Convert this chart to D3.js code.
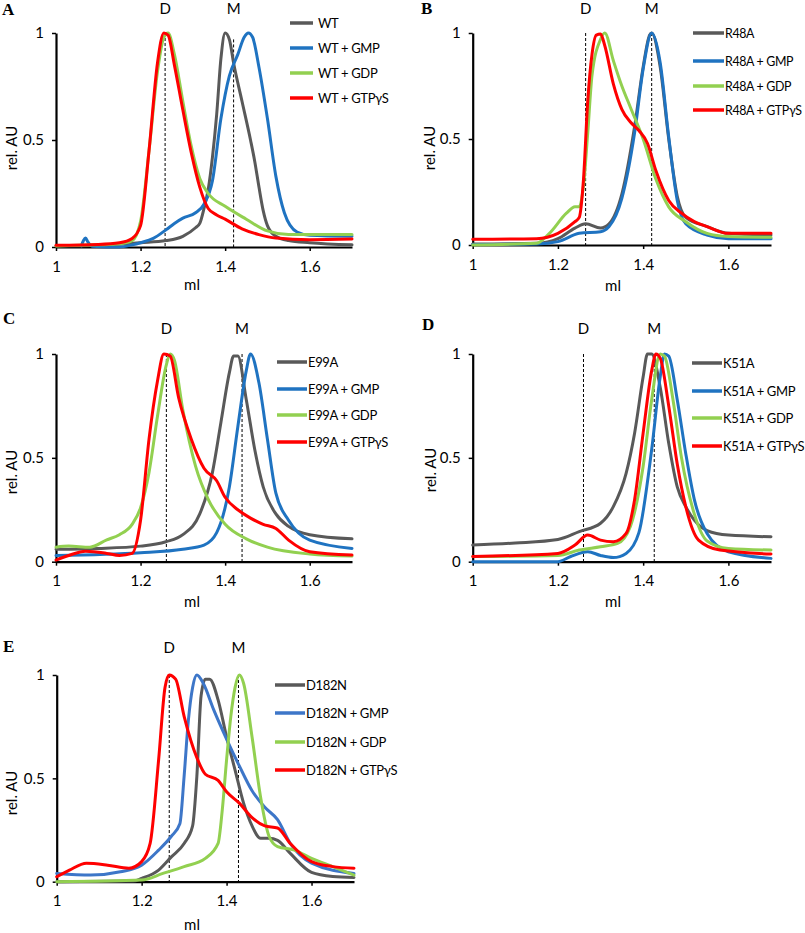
<!DOCTYPE html>
<html><head><meta charset="utf-8">
<script src="https://cdn.jsdelivr.net/npm/d3@7"></script>
<style>
body{margin:0;background:#fff;}
svg{display:block;}
text{font-family:Lato,"Open Sans",sans-serif;fill:#000;}
</style></head>
<body>
<svg id="c" width="805" height="933"></svg>
<script>
// ---------- shared ticks ----------
const xTicks = [1, 1.2, 1.4, 1.6];
const xTickLabels = ["1", "1.2", "1.4", "1.6"];
const yTicks = [0, 0.5, 1];
const yTickLabels = ["0", "0.5", "1"];
const seriesColors = ["#595959", "#1f73c1", "#92d050", "#ff0000"];

// ---------- Panel A: WT ----------
const A_labels = ["WT", "WT + GMP", "WT + GDP", "WT + GTPγS"];
const A_markers = [1.258, 1.42];
const A_WT = [[1,0.005],[1.1,0.008],[1.2,0.02],[1.26,0.03],[1.3,0.05],[1.33,0.09],[1.34,0.11],[1.35,0.18],[1.36,0.27],[1.37,0.42],[1.38,0.62],[1.39,0.88],[1.40,1.0],[1.41,0.97],[1.42,0.86],[1.44,0.68],[1.46,0.5],[1.47,0.4],[1.48,0.28],[1.49,0.17],[1.50,0.1],[1.52,0.05],[1.55,0.03],[1.6,0.02],[1.7,0.01]];
const A_GMP = [[1.06,0.005],[1.065,0.03],[1.07,0.042],[1.075,0.025],[1.085,0.004],[1.15,0.0],[1.18,0.01],[1.2,0.02],[1.23,0.04],[1.26,0.08],[1.28,0.11],[1.30,0.135],[1.33,0.16],[1.35,0.2],[1.37,0.31],[1.39,0.6],[1.41,0.8],[1.43,0.9],[1.445,0.98],[1.455,1.0],[1.465,0.98],[1.48,0.84],[1.50,0.6],[1.52,0.33],[1.54,0.16],[1.57,0.07],[1.6,0.055],[1.7,0.05]];
const A_GDP = [[1,0.005],[1.1,0.01],[1.15,0.015],[1.18,0.03],[1.2,0.12],[1.22,0.45],[1.24,0.82],[1.255,0.98],[1.265,1.0],[1.28,0.9],[1.30,0.68],[1.32,0.47],[1.34,0.32],[1.36,0.25],[1.40,0.19],[1.45,0.13],[1.5,0.075],[1.55,0.058],[1.7,0.058]];
const A_GTP = [[1,0.008],[1.1,0.012],[1.15,0.02],[1.18,0.04],[1.2,0.1],[1.22,0.45],[1.24,0.86],[1.255,1.0],[1.265,0.99],[1.28,0.85],[1.30,0.64],[1.32,0.44],[1.34,0.28],[1.36,0.18],[1.38,0.15],[1.40,0.13],[1.44,0.085],[1.48,0.058],[1.52,0.042],[1.6,0.034],[1.7,0.037]];

// ---------- Panel B: R48A ----------
const B_labels = ["R48A", "R48A + GMP", "R48A + GDP", "R48A + GTPγS"];
const B_markers = [1.265, 1.42];
const B_R48A = [[1,0.005],[1.15,0.008],[1.2,0.03],[1.24,0.08],[1.265,0.1],[1.3,0.08],[1.32,0.1],[1.35,0.24],[1.38,0.56],[1.40,0.84],[1.415,0.99],[1.42,1.0],[1.44,0.84],[1.46,0.5],[1.48,0.23],[1.50,0.13],[1.55,0.087],[1.6,0.055],[1.7,0.047]];
const B_GMP = [[1,0.002],[1.15,0.005],[1.2,0.016],[1.25,0.055],[1.3,0.063],[1.32,0.087],[1.35,0.22],[1.38,0.53],[1.40,0.83],[1.42,1.0],[1.44,0.86],[1.46,0.51],[1.48,0.21],[1.5,0.1],[1.55,0.047],[1.6,0.03],[1.7,0.03]];
const B_GDP = [[1,0.0],[1.15,0.008],[1.18,0.055],[1.22,0.15],[1.24,0.18],[1.25,0.18],[1.26,0.28],[1.27,0.53],[1.28,0.8],[1.30,0.97],[1.31,1.0],[1.33,0.87],[1.35,0.75],[1.37,0.65],[1.40,0.5],[1.43,0.31],[1.46,0.18],[1.5,0.11],[1.55,0.055],[1.6,0.04],[1.7,0.036]];
const B_GTP = [[1,0.027],[1.15,0.03],[1.2,0.055],[1.24,0.11],[1.25,0.13],[1.26,0.31],[1.27,0.68],[1.28,0.9],[1.29,0.99],[1.30,0.995],[1.31,0.94],[1.33,0.76],[1.35,0.64],[1.37,0.58],[1.39,0.54],[1.41,0.48],[1.43,0.35],[1.46,0.21],[1.49,0.15],[1.52,0.11],[1.55,0.087],[1.6,0.055],[1.7,0.055]];

// ---------- Panel C: E99A ----------
const C_labels = ["E99A", "E99A + GMP", "E99A + GDP", "E99A + GTPγS"];
const C_markers = [1.261, 1.44];
const C_E99A = [[1,0.06],[1.1,0.064],[1.2,0.075],[1.26,0.096],[1.3,0.13],[1.34,0.23],[1.37,0.43],[1.39,0.67],[1.41,0.91],[1.42,0.99],[1.43,0.99],[1.45,0.78],[1.47,0.54],[1.49,0.36],[1.52,0.23],[1.55,0.17],[1.6,0.13],[1.7,0.11]];
const C_GMP = [[1,0.03],[1.2,0.043],[1.3,0.06],[1.35,0.08],[1.38,0.14],[1.41,0.36],[1.43,0.65],[1.45,0.92],[1.46,1.0],[1.48,0.86],[1.50,0.59],[1.52,0.33],[1.55,0.2],[1.6,0.104],[1.7,0.064]];
const C_GDP = [[1,0.07],[1.03,0.075],[1.08,0.07],[1.12,0.105],[1.15,0.13],[1.18,0.18],[1.2,0.26],[1.22,0.43],[1.24,0.7],[1.26,0.94],[1.27,1.0],[1.28,0.97],[1.30,0.73],[1.33,0.46],[1.36,0.3],[1.40,0.18],[1.45,0.11],[1.5,0.07],[1.6,0.037],[1.7,0.027]];
const C_GTP = [[1,0.008],[1.03,0.03],[1.07,0.05],[1.12,0.04],[1.15,0.03],[1.18,0.04],[1.2,0.2],[1.22,0.59],[1.24,0.87],[1.255,1.0],[1.27,0.99],[1.29,0.79],[1.32,0.59],[1.35,0.45],[1.38,0.39],[1.40,0.31],[1.43,0.25],[1.46,0.21],[1.49,0.18],[1.52,0.16],[1.55,0.104],[1.6,0.048],[1.7,0.032]];

// ---------- Panel D: K51A ----------
const D_labels = ["K51A", "K51A + GMP", "K51A + GDP", "K51A + GTPγS"];
const D_markers = [1.26, 1.426];
const D_K51A = [[1,0.08],[1.1,0.09],[1.2,0.107],[1.25,0.145],[1.3,0.185],[1.33,0.265],[1.36,0.425],[1.38,0.62],[1.40,0.89],[1.41,1.0],[1.42,1.0],[1.44,0.84],[1.46,0.57],[1.48,0.36],[1.5,0.265],[1.52,0.2],[1.55,0.15],[1.6,0.128],[1.7,0.12]];
const D_GMP = [[1,0.0],[1.2,0.0],[1.23,0.025],[1.27,0.048],[1.3,0.03],[1.33,0.02],[1.36,0.04],[1.39,0.14],[1.42,0.54],[1.44,0.89],[1.45,1.0],[1.46,0.99],[1.48,0.78],[1.5,0.52],[1.52,0.3],[1.55,0.136],[1.6,0.048],[1.7,0.016]];
const D_GDP = [[1,0.025],[1.2,0.03],[1.25,0.056],[1.3,0.072],[1.34,0.088],[1.37,0.17],[1.40,0.46],[1.42,0.78],[1.44,1.0],[1.45,0.99],[1.47,0.78],[1.49,0.5],[1.52,0.23],[1.55,0.1],[1.6,0.064],[1.7,0.056]];
const D_GTP = [[1,0.025],[1.2,0.04],[1.24,0.08],[1.27,0.128],[1.3,0.104],[1.33,0.096],[1.36,0.136],[1.38,0.3],[1.40,0.62],[1.42,0.92],[1.43,1.0],[1.44,0.98],[1.46,0.75],[1.48,0.47],[1.5,0.265],[1.53,0.104],[1.58,0.056],[1.7,0.037]];

// ---------- Panel E: D182N ----------
const E_labels = ["D182N", "D182N + GMP", "D182N + GDP", "D182N + GTPγS"];
const E_markers = [1.265, 1.428];
const E_D182N = [[1,0.0],[1.18,0.003],[1.2,0.016],[1.24,0.056],[1.27,0.12],[1.3,0.185],[1.32,0.27],[1.33,0.51],[1.34,0.9],[1.35,0.98],[1.36,0.98],[1.38,0.88],[1.40,0.7],[1.42,0.54],[1.44,0.38],[1.46,0.27],[1.48,0.21],[1.5,0.21],[1.52,0.2],[1.55,0.137],[1.6,0.045],[1.65,0.025],[1.7,0.02]];
const E_GMP = [[1,0.04],[1.08,0.032],[1.15,0.048],[1.2,0.08],[1.24,0.153],[1.27,0.22],[1.29,0.28],[1.30,0.51],[1.31,0.78],[1.32,0.94],[1.33,1.0],[1.345,0.96],[1.37,0.83],[1.40,0.69],[1.43,0.56],[1.46,0.44],[1.49,0.36],[1.52,0.3],[1.55,0.185],[1.6,0.09],[1.7,0.04]];
const E_GDP = [[1,0.0],[1.2,0.008],[1.25,0.04],[1.3,0.073],[1.35,0.113],[1.38,0.185],[1.39,0.35],[1.40,0.59],[1.41,0.8],[1.42,0.94],[1.43,1.0],[1.44,0.96],[1.46,0.7],[1.48,0.41],[1.50,0.22],[1.52,0.17],[1.56,0.153],[1.6,0.113],[1.65,0.073],[1.7,0.032]];
const E_GTP = [[1,0.024],[1.03,0.056],[1.07,0.089],[1.12,0.08],[1.17,0.065],[1.2,0.097],[1.22,0.185],[1.24,0.59],[1.255,0.94],[1.265,1.0],[1.28,0.98],[1.30,0.8],[1.33,0.6],[1.35,0.52],[1.38,0.49],[1.40,0.435],[1.43,0.38],[1.46,0.31],[1.49,0.27],[1.52,0.26],[1.55,0.185],[1.6,0.097],[1.65,0.073],[1.7,0.065]];

// ---------- layout ----------
const panels = [
  {letter:"A", lx:2, ly:15, x0:56, x1:352, yt:33, yb:247, mk:A_markers, mkTop:[1,0.97], labels:A_labels, series:[A_WT,A_GMP,A_GDP,A_GTP], legX:[290,313,318], legY:[23,48,73,98], legFs:13, topY:14, ylab:[11,148], xlab:[192,290], colors:seriesColors},
  {letter:"B", lx:421, ly:14, x0:472.7, x1:771, yt:33, yb:245, mk:B_markers, mkTop:[1,1], labels:B_labels, series:[B_R48A,B_GMP,B_GDP,B_GTP], legX:[693,724,725], legY:[33,61,86,110], legFs:12.4, topY:14, ylab:[429,148], xlab:[613,291], colors:seriesColors},
  {letter:"C", lx:3, ly:324, x0:56, x1:352, yt:354, yb:561.7, mk:C_markers, mkTop:[1,1], labels:C_labels, series:[C_E99A,C_GMP,C_GDP,C_GTP], legX:[277,307,308], legY:[362,389,415,442], legFs:13, topY:334, ylab:[11,472], xlab:[192,607], colors:seriesColors},
  {letter:"D", lx:422, ly:330, x0:472.7, x1:771, yt:354, yb:561.7, mk:D_markers, mkTop:[1,1], labels:D_labels, series:[D_K51A,D_GMP,D_GDP,D_GTP], legX:[692,722,723], legY:[363,391,418,446], legFs:13, topY:334, ylab:[430,470], xlab:[613,607], colors:seriesColors},
  {letter:"E", lx:3, ly:652, x0:56.7, x1:354, yt:675, yb:881.7, mk:E_markers, mkTop:[1,1], labels:E_labels, series:[E_D182N,E_GMP,E_GDP,E_GTP], legX:[275,305,306], legY:[685,713,742,770], legFs:13, topY:653, ylab:[11,793], xlab:[192,930], colors:["#595959","#3d76c8","#92d050","#ff0000"]}
];

const svg = d3.select("#c");
svg.append("rect").attr("width",805).attr("height",933).attr("fill","#fff");

panels.forEach(p => {
  const g = svg.append("g");
  const x = d3.scaleLinear().domain([1,1.7]).range([p.x0,p.x1]);
  const y = d3.scaleLinear().domain([0,1]).range([p.yb,p.yt]);

  g.append("text").attr("x",p.lx).attr("y",p.ly)
    .style("font-family","'Liberation Serif','DejaVu Serif',serif").style("font-weight","bold").style("font-size","17px")
    .text(p.letter);

  ["D","M"].forEach((t,i)=>{
    g.append("text").attr("x",x(p.mk[i])).attr("y",p.topY).attr("text-anchor","middle")
      .style("font-size","15px").text(t);
  });

  p.mk.forEach((m,i)=>{
    g.append("line").attr("x1",x(m)).attr("x2",x(m)).attr("y1",y(p.mkTop[i])).attr("y2",y(0))
      .attr("stroke","#000").attr("stroke-width",1).attr("stroke-dasharray","3,2");
  });

  const xa = g.append("g").attr("transform",`translate(0,${p.yb})`)
    .call(d3.axisBottom(x).tickValues(xTicks).tickFormat((d,i)=>xTickLabels[i]).tickSize(4).tickSizeOuter(0).tickPadding(10));
  const ya = g.append("g").attr("transform",`translate(${p.x0},0)`)
    .call(d3.axisLeft(y).tickValues(yTicks).tickFormat((d,i)=>yTickLabels[i]).tickSize(4).tickSizeOuter(0).tickPadding(8));
  [xa,ya].forEach(a=>{
    a.select(".domain").attr("stroke","#000").attr("stroke-width",2.2);
    a.selectAll(".tick line").attr("stroke","#000").attr("stroke-width",1.5);
    a.selectAll(".tick text").style("font-size","15px").style("font-family","Lato,'Open Sans',sans-serif");
  });

  g.append("text").attr("transform",`translate(${p.ylab[0]},${p.ylab[1]}) rotate(-90)`)
    .attr("text-anchor","middle").attr("dominant-baseline","central").style("font-size","15px").text("rel. AU");
  g.append("text").attr("x",p.xlab[0]).attr("y",p.xlab[1]).attr("text-anchor","middle")
    .style("font-size","15px").text("ml");

  const line = d3.line().x(d=>x(d[0])).y(d=>y(d[1])).curve(d3.curveMonotoneX);
  p.series.forEach((s,i)=>{
    g.append("path").datum(s).attr("d",line).attr("fill","none")
      .attr("stroke",p.colors[i]).attr("stroke-width",3).attr("stroke-linejoin","round").attr("stroke-linecap","round");
  });

  p.labels.forEach((lab,i)=>{
    g.append("line").attr("x1",p.legX[0]).attr("x2",p.legX[1]).attr("y1",p.legY[i]).attr("y2",p.legY[i])
      .attr("stroke",p.colors[i]).attr("stroke-width",3.5);
    g.append("text").attr("x",p.legX[2]).attr("y",p.legY[i]).attr("dominant-baseline","central")
      .style("font-size",p.legFs+"px").style("letter-spacing","-0.35px").text(lab);
  });
});
</script>
</body></html>
